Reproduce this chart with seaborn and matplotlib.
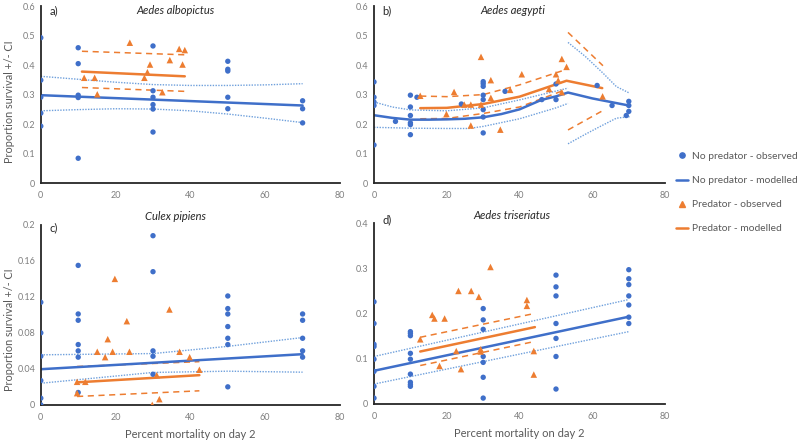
import numpy as np
import pandas as pd
import matplotlib
matplotlib.use("Agg")
import matplotlib.pyplot as plt
from matplotlib.lines import Line2D
import seaborn as sns

sns.set_theme(style="white")
plt.rcParams['font.family'] = ['Lato', 'DejaVu Sans']

BLUE = "#3F6FC9"
ORANGE = "#ED7D31"
LIGHTBLUE = "#6FA0DC"
TICK = "#7F7F7F"
LABEL = "#595959"

# ---- observed data (x = percent mortality on day 2, y = proportion survival) ----
# a) Aedes albopictus
a_np_x = [0, 0, 0, 0, 0, 10, 10, 10, 10, 10, 30, 30, 30, 30, 30, 30, 50, 50, 50, 50, 50, 70, 70, 70]
a_np_y = [0.493, 0.349, 0.291, 0.237, 0.193, 0.459, 0.405, 0.298, 0.290, 0.084,
          0.465, 0.313, 0.291, 0.266, 0.251, 0.173, 0.413, 0.386, 0.380, 0.291, 0.252,
          0.279, 0.252, 0.204]
a_p_x = [11.6, 14.4, 15.1, 23.8, 28.5, 29.2, 27.7, 32.5, 34.5, 37.0, 38.5, 37.9]
a_p_y = [0.357, 0.357, 0.301, 0.476, 0.376, 0.402, 0.357, 0.308, 0.417, 0.455, 0.451, 0.402]

# b) Aedes aegypti
b_np_x = [0, 0, 0, 0, 0, 5.9, 10, 10, 10, 10, 10, 10, 11.8, 24.0,
          30, 30, 30, 30, 30, 30, 30, 30, 36.0, 46.1, 50.0, 50.0, 61.3, 65.4, 69.3, 70, 70, 70]
b_np_y = [0.343, 0.291, 0.275, 0.263, 0.129, 0.209, 0.298, 0.258, 0.229, 0.204, 0.198, 0.164,
          0.291, 0.268, 0.344, 0.337, 0.328, 0.298, 0.283, 0.249, 0.224, 0.170,
          0.311, 0.283, 0.336, 0.283, 0.331, 0.263, 0.229, 0.277, 0.263, 0.243]
b_p_x = [12.7, 19.9, 22.0, 24.8, 26.6, 26.6, 29.4, 29.4, 32.1, 32.1, 34.7, 37.4, 40.6,
         48.1, 50.0, 50.6, 51.6, 51.6, 52.9, 62.8]
b_p_y = [0.296, 0.234, 0.309, 0.266, 0.266, 0.195, 0.428, 0.266, 0.349, 0.289, 0.181, 0.316,
         0.369, 0.319, 0.369, 0.348, 0.421, 0.308, 0.394, 0.294]

# c) Culex pipiens
c_np_x = [0, 0, 0, 0, 0, 0, 10, 10, 10, 10, 10, 10, 10, 30, 30, 30, 30, 30,
          50, 50, 50, 50, 50, 50, 50, 70, 70, 70, 70, 70]
c_np_y = [0.114, 0.080, 0.054, 0.027, 0.0074, 0.0, 0.155, 0.101, 0.094, 0.067, 0.060, 0.053, 0.0137,
          0.188, 0.148, 0.060, 0.054, 0.034, 0.121, 0.107, 0.101, 0.087, 0.074, 0.067, 0.020,
          0.101, 0.094, 0.074, 0.060, 0.053]
c_p_x = [9.7, 9.7, 11.9, 15.1, 17.2, 17.9, 19.2, 19.8, 23.0, 23.7, 29.8, 31.0, 31.7,
         34.4, 37.1, 39.8, 42.4]
c_p_y = [0.013, 0.0256, 0.0256, 0.059, 0.053, 0.073, 0.059, 0.140, 0.093, 0.059, 0.0,
         0.033, 0.0063, 0.106, 0.059, 0.053, 0.039]

# d) Aedes triseriatus
d_np_x = [0, 0, 0, 0, 0, 0, 0, 0, 10, 10, 10, 10, 10, 10, 10, 10, 10,
          30, 30, 30, 30, 30, 30, 30, 50, 50, 50, 50, 50, 50, 50, 70, 70, 70, 70, 70, 70, 70]
d_np_y = [0.226, 0.178, 0.132, 0.127, 0.099, 0.072, 0.039, 0.013,
          0.160, 0.156, 0.151, 0.112, 0.099, 0.066, 0.048, 0.043, 0.039,
          0.211, 0.186, 0.165, 0.105, 0.092, 0.059, 0.013,
          0.285, 0.259, 0.239, 0.178, 0.145, 0.105, 0.033,
          0.297, 0.277, 0.264, 0.239, 0.219, 0.192, 0.178]
d_p_x = [12.7, 16.0, 16.6, 18.0, 19.4, 22.6, 23.2, 23.9, 26.7, 28.8, 29.3, 29.3, 32.0,
         42.0, 42.0, 43.9, 43.9]
d_p_y = [0.143, 0.197, 0.189, 0.084, 0.189, 0.117, 0.250, 0.077, 0.250, 0.237, 0.121, 0.116,
         0.303, 0.230, 0.217, 0.117, 0.065]

# ---- modelled lines and CI bounds (each segment: x list, y list) ----
a_np_fit = ([0, 70], [0.298, 0.263])
a_np_hi = ([0, 10, 20, 30, 40, 50, 60, 70], [0.362, 0.352, 0.342, 0.334, 0.331, 0.331, 0.333, 0.337])
a_np_lo = ([0, 10, 20, 30, 40, 50, 60, 70], [0.245, 0.249, 0.252, 0.251, 0.245, 0.234, 0.220, 0.205])
a_p_fit = ([11, 38.5], [0.378, 0.362])
a_p_hi = ([11, 38.5], [0.447, 0.435])
a_p_lo = ([11, 38.5], [0.324, 0.311])

b_np_fit = ([0, 5, 10, 15, 20, 25, 30, 35, 40, 46, 50, 53.3, 60, 65, 70],
            [0.230, 0.221, 0.215, 0.215, 0.216, 0.218, 0.223, 0.234, 0.250, 0.282, 0.294, 0.307, 0.287, 0.275, 0.263])
b_np_hi = ([0, 5, 10, 20, 30, 40, 50, 53.3],
           [0.275, 0.258, 0.248, 0.245, 0.255, 0.282, 0.312, 0.322])
b_np_hi2 = ([53.3, 58, 62.9, 66.6, 70.2], [0.477, 0.430, 0.373, 0.327, 0.305])
b_np_lo = ([0, 10, 20, 26, 30, 40, 50, 53.3],
           [0.189, 0.186, 0.185, 0.185, 0.192, 0.218, 0.255, 0.270])
b_np_lo2 = ([53.3, 58, 62, 66.6, 70.2], [0.133, 0.165, 0.191, 0.220, 0.225])
b_p_fit = ([12.7, 20, 30, 40, 46, 52.9, 62.7], [0.254, 0.255, 0.268, 0.293, 0.318, 0.347, 0.322])
b_p_hi = ([12.7, 20, 30, 40, 52.5], [0.295, 0.293, 0.300, 0.333, 0.384])
b_p_hi2 = ([53.3, 62.9], [0.511, 0.398])
b_p_lo = ([12.7, 20, 30, 40, 52.5], [0.218, 0.219, 0.236, 0.258, 0.316])
b_p_lo2 = ([53.3, 62.9], [0.180, 0.246])

c_np_fit = ([0, 70], [0.0396, 0.0563])
c_np_hi = ([0, 30, 50, 70], [0.0556, 0.057, 0.065, 0.0748])
c_np_lo = ([0, 30, 50, 70], [0.024, 0.036, 0.0374, 0.0363])
c_p_fit = ([9.7, 42.4], [0.025, 0.033])
c_p_hi = ([9.7, 42.4], [0.0426, 0.048])
c_p_lo = ([9.7, 42.4], [0.0093, 0.0156])

d_np_fit = ([0, 70], [0.0734, 0.193])
d_np_hi = ([0, 70], [0.105, 0.231])
d_np_lo = ([0, 70], [0.044, 0.160])
d_p_fit = ([12.7, 44.2], [0.116, 0.170])
d_p_hi = ([12.7, 43.4], [0.1475, 0.199])
d_p_lo = ([12.7, 43.4], [0.085, 0.137])

panels = [
    dict(letter="a)", name="Aedes albopictus", rect=[0.051, 0.585, 0.374, 0.401],
         ylim=0.6, yticks=np.arange(0, 0.61, 0.1), fmt="{:.1f}",
         np=(a_np_x, a_np_y), p=(a_p_x, a_p_y),
         np_fit=[a_np_fit], np_ci=[a_np_hi, a_np_lo], p_fit=[a_p_fit], p_ci=[a_p_hi, a_p_lo],
         ylab=0.46, xlab=False, tpos=(0.45, 0.975), lpos=(0.03, 0.975)),
    dict(letter="b)", name="Aedes aegypti", rect=[0.4675, 0.585, 0.364, 0.401],
         ylim=0.6, yticks=np.arange(0, 0.61, 0.1), fmt="{:.1f}",
         np=(b_np_x, b_np_y), p=(b_p_x, b_p_y),
         np_fit=[b_np_fit], np_ci=[b_np_hi, b_np_hi2, b_np_lo, b_np_lo2],
         p_fit=[b_p_fit], p_ci=[b_p_hi, b_p_hi2, b_p_lo, b_p_lo2],
         ylab=None, xlab=False, tpos=(0.475, 0.975), lpos=(0.03, 0.975)),
    dict(letter="c)", name="Culex pipiens", rect=[0.051, 0.082, 0.374, 0.408],
         ylim=0.2, yticks=np.arange(0, 0.201, 0.04), fmt="{:g}",
         np=(c_np_x, c_np_y), p=(c_p_x, c_p_y),
         np_fit=[c_np_fit], np_ci=[c_np_hi, c_np_lo], p_fit=[c_p_fit], p_ci=[c_p_hi, c_p_lo],
         ylab=0.42, xlab=True, tpos=(0.45, 1.045), lpos=(0.03, 0.985)),
    dict(letter="d)", name="Aedes triseriatus", rect=[0.4675, 0.084, 0.364, 0.41],
         ylim=0.4, yticks=np.arange(0, 0.41, 0.1), fmt="{:.1f}",
         np=(d_np_x, d_np_y), p=(d_p_x, d_p_y),
         np_fit=[d_np_fit], np_ci=[d_np_hi, d_np_lo], p_fit=[d_p_fit], p_ci=[d_p_hi, d_p_lo],
         ylab=None, xlab=True, tpos=(0.475, 1.04), lpos=(0.03, 1.02)),
]

fig = plt.figure(figsize=(8, 4.41), dpi=100)

for pn in panels:
    ax = fig.add_axes(pn["rect"])
    # modelled lines and CIs
    for seg in pn["np_ci"]:
        sns.lineplot(x=seg[0], y=seg[1], ax=ax, color=LIGHTBLUE, lw=1.0,
                     linestyle=(0, (1, 1)), estimator=None, sort=False)
    for seg in pn["p_ci"]:
        sns.lineplot(x=seg[0], y=seg[1], ax=ax, color=ORANGE, lw=1.1,
                     linestyle=(0, (4, 3)), estimator=None, sort=False)
    for seg in pn["np_fit"]:
        sns.lineplot(x=seg[0], y=seg[1], ax=ax, color=BLUE, lw=1.8, estimator=None, sort=False)
    for seg in pn["p_fit"]:
        sns.lineplot(x=seg[0], y=seg[1], ax=ax, color=ORANGE, lw=1.8, estimator=None, sort=False)
    # observed points
    sns.scatterplot(x=pn["np"][0], y=pn["np"][1], ax=ax, color=BLUE, marker="o",
                    s=15, edgecolor="none", zorder=5)
    sns.scatterplot(x=pn["p"][0], y=pn["p"][1], ax=ax, color=ORANGE, marker="^",
                    s=22, edgecolor="none", zorder=5)

    ax.set_xlim(0, 80)
    ax.set_ylim(0, pn["ylim"])
    ax.set_xticks([0, 20, 40, 60, 80])
    ax.set_yticks(pn["yticks"])
    ax.set_yticklabels([pn["fmt"].format(v) if v > 0 else "0" for v in pn["yticks"]])
    ax.tick_params(axis="both", labelsize=6.5, colors=TICK, length=0)
    ax.tick_params(axis="y", pad=4)
    ax.tick_params(axis="x", pad=6)
    for s in ["top", "right"]:
        ax.spines[s].set_visible(False)
    for s in ["left", "bottom"]:
        ax.spines[s].set_color("#262626")
        ax.spines[s].set_linewidth(1.3)
    ax.set_facecolor("white")

    ax.text(pn["lpos"][0], pn["lpos"][1], pn["letter"], transform=ax.transAxes,
            fontsize=8, color="#262626", ha="left", va="center")
    ax.text(pn["tpos"][0], pn["tpos"][1], pn["name"], transform=ax.transAxes,
            fontsize=8, style="italic", color="#262626", ha="center", va="center")
    if pn["ylab"] is not None:
        ax.set_ylabel("Proportion survival +/- CI", fontsize=7.8, color=LABEL)
        ax.yaxis.set_label_coords(-0.085, pn["ylab"])
    else:
        ax.set_ylabel("")
    if pn["xlab"]:
        ax.set_xlabel("Percent mortality on day 2", fontsize=8, color=LABEL, labelpad=5)
    else:
        ax.set_xlabel("")

handles = [
    Line2D([], [], color=BLUE, marker="o", linestyle="none", markersize=3.8),
    Line2D([], [], color=BLUE, lw=1.8),
    Line2D([], [], color=ORANGE, marker="^", linestyle="none", markersize=4.2),
    Line2D([], [], color=ORANGE, lw=1.8),
]
labels = ["No predator - observed", "No predator - modelled",
          "Predator - observed", "Predator - modelled"]
leg = fig.legend(handles, labels, loc="upper left", bbox_to_anchor=(0.84, 0.665),
                 frameon=False, fontsize=7.4, handlelength=1.2, handletextpad=0.3,
                 labelspacing=1.45, borderaxespad=0)
for t in leg.get_texts():
    t.set_color(LABEL)

fig.savefig("out.png", dpi=100, facecolor="white")
